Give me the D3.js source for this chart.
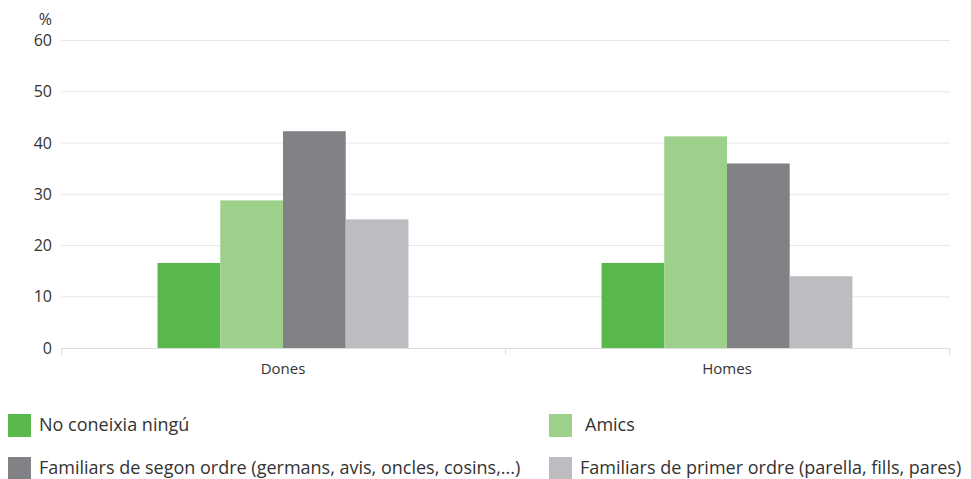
<!DOCTYPE html>
<html><head><meta charset="utf-8">
<script src="https://cdn.jsdelivr.net/npm/d3@7"></script>
<style>body{margin:0;background:#fff;font-family:"Open Sans","Noto Sans",sans-serif;}svg{display:block}</style>
</head><body>
<svg id="c" width="971" height="479"></svg>
<script>
const categories = ["Dones", "Homes"];
const seriesNames = ["No coneixia ningú", "Amics", "Familiars de segon ordre (germans, avis, oncles, cosins,...)", "Familiars de primer ordre (parella, fills, pares)"];
const noConeixia = [16.6, 16.6];
const amics = [28.8, 41.3];
const familiarsSegon = [42.3, 36.0];
const familiarsPrimer = [25.1, 14.0];
const yTicks = [0, 10, 20, 30, 40, 50, 60];
const colors = ["#58b84b", "#9dd08a", "#818285", "#bcbdc0"];
const series = [noConeixia, amics, familiarsSegon, familiarsPrimer];

(function () {
const FONT = "'Open Sans', 'Noto Sans', sans-serif";
const svg = d3.select("#c").attr("font-family", FONT);
const mLeft = 61, mRight = 949, mTop = 40.5, mBottom = 348;
const y = d3.scaleLinear().domain([0, 60]).range([mBottom, mTop]);
const x0 = d3.scaleBand().domain(categories).range([mLeft, mRight]).padding(0);
const bw = x0.bandwidth();
const x1 = d3.scaleBand().domain(d3.range(series.length)).range([bw * 0.2175, bw * 0.7825]).padding(0);

svg.append("g").selectAll("line").data(yTicks.filter(d => d > 0)).join("line")
  .attr("x1", mLeft).attr("x2", mRight + 1)
  .attr("y1", d => y(d)).attr("y2", d => y(d))
  .attr("stroke", "#e8e8e8").attr("stroke-width", 1);

svg.append("g").selectAll("text").data(yTicks).join("text")
  .attr("x", 52).attr("y", d => y(d)).attr("dy", "0.35em")
  .attr("text-anchor", "end").attr("font-size", 16).attr("fill", "#333")
  .text(d => d);
svg.append("text").attr("x", 52).attr("y", 25).attr("text-anchor", "end")
  .attr("font-size", 16).attr("fill", "#333").text("%");

const g = svg.append("g");
categories.forEach((c, ci) => {
  series.forEach((s, si) => {
    g.append("rect")
      .attr("x", x0(c) + x1(si)).attr("width", x1.bandwidth())
      .attr("y", y(s[ci])).attr("height", y(0) - y(s[ci]))
      .attr("fill", colors[si]);
  });
});

const xa = svg.append("g").attr("transform", `translate(0,${mBottom})`)
  .call(d3.axisBottom(x0).tickSize(0).tickPadding(15));
xa.select(".domain").attr("stroke", "#dcdcdc").attr("d", `M${mLeft},0.5H${mRight + 1}`);
xa.selectAll("text").attr("font-size", 15).attr("fill", "#333").attr("font-family", FONT);
const bounds = [mLeft, mLeft + bw, mRight];
svg.append("g").selectAll("line").data(bounds).join("line")
  .attr("x1", d => d + 0.5).attr("x2", d => d + 0.5)
  .attr("y1", mBottom).attr("y2", mBottom + 7)
  .attr("stroke", "#dcdcdc");

const legPos = [[8, 414], [549, 414], [8, 457], [549, 457]];
const legTextX = [39, 585, 39, 580];
const lg = svg.append("g");
seriesNames.forEach((n, i) => {
  lg.append("rect").attr("x", legPos[i][0]).attr("y", legPos[i][1])
    .attr("width", 23).attr("height", 23).attr("fill", colors[i]);
  lg.append("text").attr("x", legTextX[i]).attr("y", legPos[i][1] + 11).attr("dy", "0.35em")
    .attr("font-size", 18).attr("fill", "#333").text(n);
});
})();
</script>
</body></html>
